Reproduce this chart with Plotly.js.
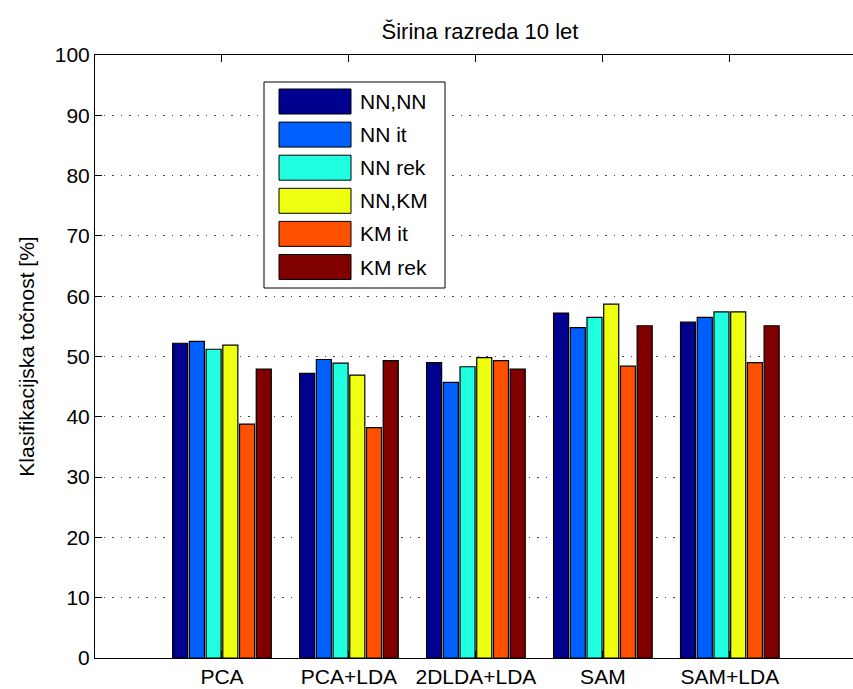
<!DOCTYPE html>
<html>
<head>
<meta charset="utf-8">
<script src="https://cdn.plot.ly/plotly-3.0.1.min.js"></script>
<style>html,body{margin:0;padding:0;background:#fff;overflow:hidden;}#chart{width:853px;height:689px;}</style>
</head>
<body>
<div id="chart"></div>
<script>
const categories = ['PCA', 'PCA+LDA', '2DLDA+LDA', 'SAM', 'SAM+LDA'];
const seriesNames = ['NN,NN', 'NN it', 'NN rek', 'NN,KM', 'KM it', 'KM rek'];
const nnNN  = [52.2, 47.2, 49.0, 57.2, 55.7];
const nnIt  = [52.5, 49.5, 45.7, 54.8, 56.5];
const nnRek = [51.2, 48.9, 48.3, 56.5, 57.4];
const nnKM  = [51.9, 46.9, 49.8, 58.7, 57.4];
const kmIt  = [38.8, 38.2, 49.3, 48.4, 49.0];
const kmRek = [47.9, 49.3, 47.9, 55.1, 55.1];
const yTicks = [0, 10, 20, 30, 40, 50, 60, 70, 80, 90, 100];

const seriesValues = [nnNN, nnIt, nnRek, nnKM, kmIt, kmRek];
const colors = ['#00008F', '#0060FF', '#20FFDF', '#EFFF10', '#FF5000', '#800000'];

const FONT = 'Liberation Sans, Arial, sans-serif';

const traces = seriesValues.map((vals, i) => ({
  type: 'bar',
  name: seriesNames[i],
  x: categories,
  y: vals,
  marker: { color: colors[i], line: { color: '#000', width: 1.2 } },
  showlegend: false,
  hoverinfo: 'x+y+name'
}));

// custom MATLAB-like legend in paper coordinates
const W = 853, H = 689, ML = 95, MT = 55, MB = 31, MR = 0;
const PW = W - ML - MR, PH = H - MT - MB;
const px2x = p => (p - ML) / PW;
const py2y = p => (H - MB - p) / PH;

const shapes = [{
  type: 'rect', xref: 'paper', yref: 'paper',
  x0: px2x(264), x1: px2x(445), y0: py2y(288), y1: py2y(82),
  fillcolor: '#fff', line: { color: '#000', width: 1 }, layer: 'above'
}];
const annotations = [];
seriesNames.forEach((nm, i) => {
  const cy = 101.5 + 33.1 * i;
  shapes.push({
    type: 'rect', xref: 'paper', yref: 'paper',
    x0: px2x(279), x1: px2x(351), y0: py2y(cy + 12.5), y1: py2y(cy - 12.5),
    fillcolor: colors[i], line: { color: '#000', width: 1 }, layer: 'above'
  });
  annotations.push({
    xref: 'paper', yref: 'paper', x: px2x(358), y: py2y(cy),
    xanchor: 'left', yanchor: 'middle', text: nm, showarrow: false,
    font: { family: FONT, size: 21, color: '#000' }
  });
});

const layout = {
  width: W, height: H,
  margin: { l: ML, r: MR, t: MT, b: MB, pad: 0 },
  paper_bgcolor: '#fff', plot_bgcolor: '#fff',
  barmode: 'group', bargap: 0.21, bargroupgap: 0.1,
  font: { family: FONT, size: 21, color: '#000' },
  title: {
    text: 'Širina razreda 10 let',
    font: { family: FONT, size: 22, color: '#000' },
    x: 480 / W, xanchor: 'center', y: 1 - 31 / H, yanchor: 'middle', yref: 'container'
  },
  xaxis: {
    type: 'category', range: [-1, 4.97],
    showline: true, linecolor: '#000', linewidth: 1, mirror: 'ticks',
    ticks: 'inside', ticklen: 7, tickcolor: '#000',
    showgrid: false, zeroline: false,
    tickfont: { family: FONT, size: 21, color: '#000' }
  },
  yaxis: {
    range: [0, 100], tickvals: yTicks, ticktext: yTicks.map(String),
    showline: true, linecolor: '#000', linewidth: 1, mirror: false,
    ticks: 'inside', ticklen: 7, tickcolor: '#000',
    showgrid: true, gridcolor: '#444', gridwidth: 1, griddash: '1.5px,7px',
    zeroline: false,
    tickfont: { family: FONT, size: 21, color: '#000' },
    title: { text: 'Klasifikacijska točnost [%]', font: { family: FONT, size: 21, color: '#000' }, standoff: 14 }
  },
  shapes: shapes,
  annotations: annotations
};

Plotly.newPlot('chart', traces, layout, { displayModeBar: false, staticPlot: true });
</script>
</body>
</html>
